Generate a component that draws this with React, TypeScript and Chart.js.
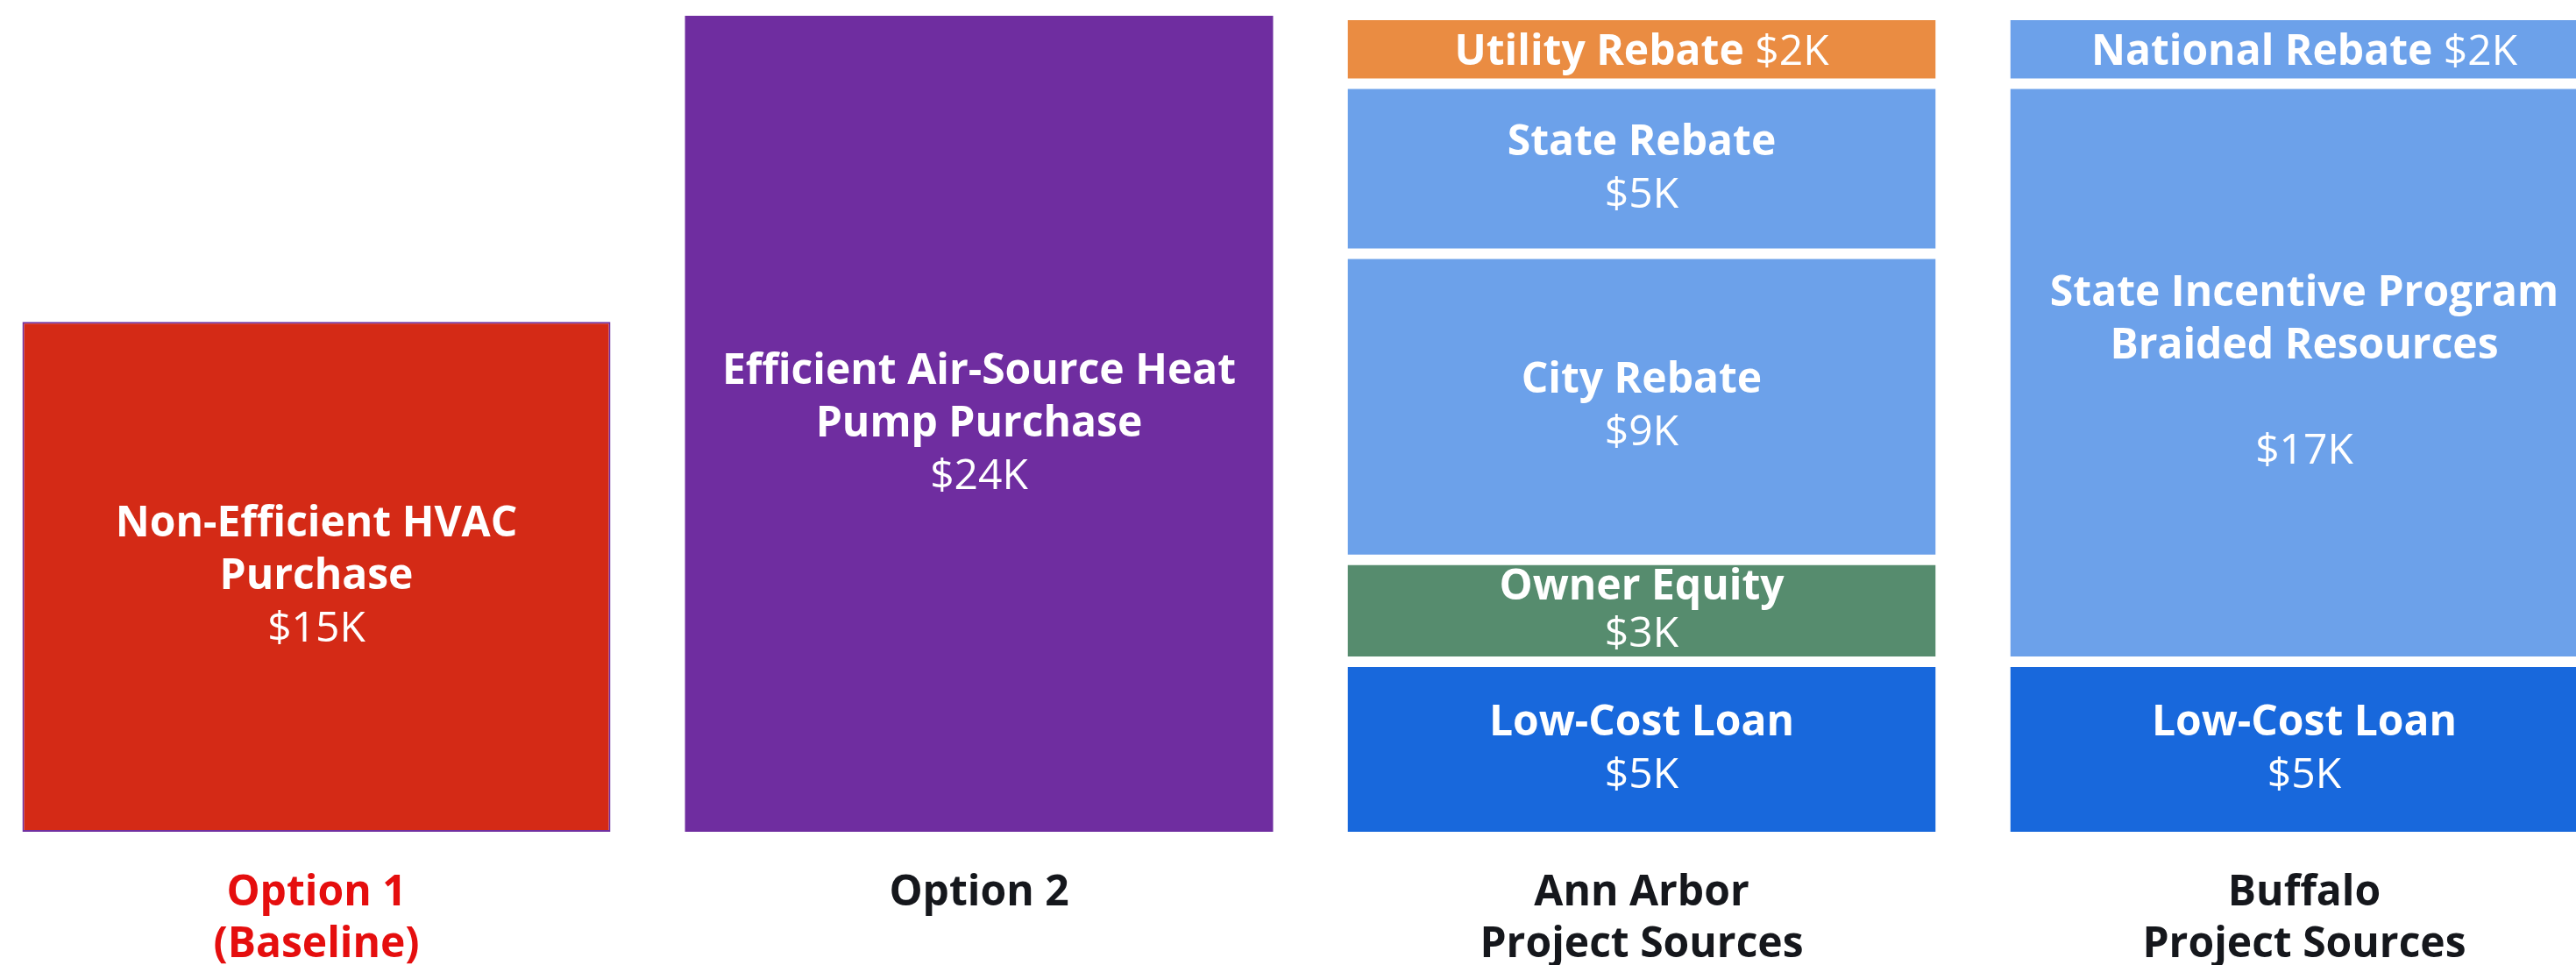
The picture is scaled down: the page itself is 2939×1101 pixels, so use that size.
import React, { useEffect, useRef } from "react";
import { Chart, registerables } from "chart.js";

Chart.register(...registerables);

// ---- data ----
const categories: string[][] = [
  ["Option 1", "(Baseline)"],
  ["Option 2"],
  ["Ann Arbor", "Project Sources"],
  ["Buffalo", "Project Sources"],
];
const optionItems = ["Non-Efficient HVAC\nPurchase", "Efficient Air-Source Heat\nPump Purchase"];
const optionCosts = [15, 24]; // $K
const annArborSources = ["Low-Cost Loan", "Owner Equity", "City Rebate", "State Rebate", "Utility Rebate"];
const annArborValues = [5, 3, 9, 5, 2]; // $K, bottom to top
const buffaloSources = ["Low-Cost Loan", "State Incentive Program\nBraided Resources\n", "National Rebate"];
const buffaloValues = [5, 17, 2]; // $K, bottom to top

// ---- styles ----
const optionColors = ["#D42A16", "#6F2DA0"];
const annArborColors = ["#1868DC", "#568C6E", "#6CA1EA", "#6CA1EA", "#EA8C42"];
const buffaloColors = ["#1868DC", "#6CA1EA", "#6CA1EA"];
const FONT = '"Open Sans", "Noto Sans", sans-serif';

export default function App() {
  const ref = useRef<HTMLCanvasElement | null>(null);

  useEffect(() => {
    document.body.style.margin = "0";
    let chart: Chart | null = null;
    let cancelled = false;

    const levels = Math.max(annArborValues.length, buffaloValues.length);
    const datasets: any[] = [];
    for (let k = 0; k < levels; k++) {
      const data = [
        k === 0 ? optionCosts[0] : null,
        k === 0 ? optionCosts[1] : null,
        k < annArborValues.length ? annArborValues[k] : null,
        k < buffaloValues.length ? buffaloValues[k] : null,
      ];
      const names = [
        k === 0 ? optionItems[0] : "",
        k === 0 ? optionItems[1] : "",
        annArborSources[k] || "",
        buffaloSources[k] || "",
      ];
      const bg = [
        optionColors[0],
        optionColors[1],
        annArborColors[k] || "#000",
        buffaloColors[k] || "#000",
      ];
      datasets.push({
        label: "level" + k,
        data,
        names,
        backgroundColor: bg,
        borderColor: ["#7030A0", "#6F2DA0", "#ffffff", "#ffffff"],
        borderSkipped: false,
        borderWidth: (ctx: any) => {
          const i = ctx.dataIndex;
          if (i === 0) return 2;
          if (i === 1) return 0;
          const n = i === 2 ? annArborValues.length : buffaloValues.length;
          return {
            top: k === n - 1 ? 5 : 6,
            bottom: k === 0 ? 0 : 6,
            left: 0,
            right: 0,
          };
        },
        barPercentage: 671 / 756,
        categoryPercentage: 1,
        stack: "s",
      });
    }

    const labelPlugin = {
      id: "segLabels",
      afterDatasetsDraw(c: any) {
        const ctx = c.ctx;
        ctx.save();
        ctx.fillStyle = "#ffffff";
        ctx.textBaseline = "alphabetic";
        const capH = 34;
        const boldFont = "bold 48px " + FONT;
        const regFont = "48px " + FONT;
        c.data.datasets.forEach((ds: any, k: number) => {
          const meta = c.getDatasetMeta(k);
          meta.data.forEach((el: any, i: number) => {
            const v = ds.data[i];
            if (v === null || v === undefined) return;
            const p = el.getProps(["x", "y", "base"], true);
            const isStack = i >= 2;
            const top = Math.min(p.y, p.base) + (isStack ? 6 : 0);
            const bot = Math.max(p.y, p.base) - (isStack && k > 0 ? 6 : 0);
            const center = (top + bot) / 2;
            const avail = bot - top - 16;
            const valueText = "$" + v + "K";
            const nameLines = String(ds.names[i]).split("\n");
            const n = nameLines.length + 1;
            let s = 60;
            if (capH + (n - 1) * s > avail) s = Math.floor((avail - capH) / (n - 1));
            if (s >= 50) {
              const blockTop = center - (capH + (n - 1) * s) / 2 - 3;
              ctx.textAlign = "center";
              nameLines.forEach((t: string, j: number) => {
                if (!t) return;
                ctx.font = boldFont;
                ctx.fillText(t, p.x, blockTop + capH + j * s);
              });
              ctx.font = regFont;
              ctx.fillText(valueText, p.x, blockTop + capH + (n - 1) * s);
            } else {
              // too small for stacked lines: name and value on one line
              const name = nameLines.filter((t: string) => t).join(" ");
              ctx.font = boldFont;
              const w1 = ctx.measureText(name + " ").width;
              ctx.font = regFont;
              const w2 = ctx.measureText(valueText).width;
              const x0 = p.x - (w1 + w2) / 2;
              const yb = center + capH / 2;
              ctx.textAlign = "left";
              ctx.font = boldFont;
              ctx.fillText(name, x0, yb);
              ctx.font = regFont;
              ctx.fillText(valueText, x0 + w1, yb);
            }
          });
        });
        ctx.restore();
      },
    };

    const make = () => {
      if (cancelled || !ref.current) return;
      chart = new Chart(ref.current, {
        type: "bar",
        data: { labels: categories as any, datasets },
        options: {
          responsive: false,
          animation: false,
          devicePixelRatio: 1,
          layout: { padding: { top: 18, left: 0, right: 0, bottom: 0 } },
          plugins: { legend: { display: false }, tooltip: { enabled: false } },
          scales: {
            x: {
              stacked: true,
              grid: { display: false, drawTicks: false },
              border: { display: false },
              ticks: {
                autoSkip: false,
                maxRotation: 0,
                minRotation: 0,
                padding: 41,
                font: { family: FONT, size: 48, weight: "bold", lineHeight: 1.22 },
                color: (c: any) => (c.index === 0 ? "#E50E0E" : "#15171C"),
              },
              afterFit: (s: any) => {
                s.height = 152;
              },
            },
            y: { stacked: true, display: false, min: 0, max: 24 },
          },
        } as any,
        plugins: [labelPlugin],
      });
    };

    const fontsAny = (document as any).fonts;
    if (fontsAny && fontsAny.load) {
      Promise.all([
        fontsAny.load('bold 48px "Open Sans"'),
        fontsAny.load('48px "Open Sans"'),
      ])
        .catch(() => null)
        .then(make);
    } else {
      make();
    }

    return () => {
      cancelled = true;
      if (chart) chart.destroy();
    };
  }, []);

  return (
    <div style={{ width: 2939, height: 1101, overflow: "hidden", position: "relative", background: "#ffffff" }}>
      <canvas
        ref={ref}
        width={3024}
        height={1101}
        style={{ position: "absolute", left: -17, top: 0, width: 3024, height: 1101 }}
      />
    </div>
  );
}
